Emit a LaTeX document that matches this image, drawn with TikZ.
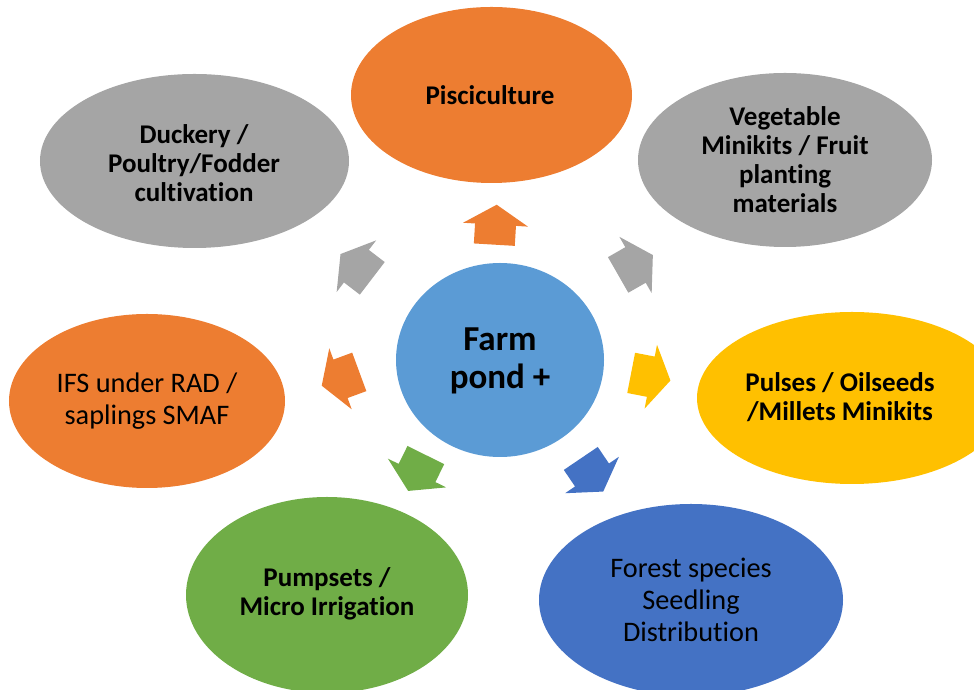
\documentclass[tikz,border=0pt]{standalone}
\usepackage{fontspec}
\setmainfont[Ligatures=NoCommon]{Carlito}
\usetikzlibrary{shapes.geometric}
\definecolor{cOrange}{HTML}{ED7D31}
\definecolor{cGray}{HTML}{A5A5A5}
\definecolor{cYellow}{HTML}{FFC000}
\definecolor{cBlue}{HTML}{4472C4}
\definecolor{cGreen}{HTML}{70AD47}
\definecolor{cCenter}{HTML}{5B9BD5}
\newcommand\bkarrow[4]{\fill[#4, shift={(#1,#2)}, rotate=#3] (-20,-20.5) -- (0,-20.5) -- (0,-32.5) -- (20,0) -- (0,32.5) -- (0,20.5) -- (-20,20.5) -- cycle;}
\begin{document}
\begin{tikzpicture}[x=1bp,y=1bp,
  blob/.style={ellipse, inner sep=0pt, draw=none},
  bt/.style={font=\fontsize{27bp}{29bp}\selectfont\bfseries, align=center, text=black, inner sep=0pt},
  rt/.style={font=\fontsize{28.3bp}{32bp}\selectfont, align=center, text=black, inner sep=0pt}]
\useasboundingbox (0,0) rectangle (974,690);
\clip (0,0) rectangle (974,690);
% outer ellipses
\node[blob, fill=cOrange, minimum width=281bp, minimum height=176bp] (pis) at (491.5,595) {};
\node[blob, fill=cGray, minimum width=309bp, minimum height=174bp] (duck) at (194.5,529) {};
\node[blob, fill=cGray, minimum width=294bp, minimum height=174bp] (veg) at (785,530) {};
\node[blob, fill=cYellow, minimum width=310bp, minimum height=172bp] (pul) at (852,292) {};
\node[blob, fill=cOrange, minimum width=276bp, minimum height=174bp] (ifs) at (147,289) {};
\node[blob, fill=cBlue, minimum width=304bp, minimum height=192bp] (forest) at (691,90) {};
\node[blob, fill=cGreen, minimum width=282bp, minimum height=196bp] (pump) at (327,95) {};
\node[blob, fill=cCenter, minimum width=208bp, minimum height=194bp] (farm) at (500,330) {};
% labels
\node[bt] (tpis) at (490,595) {Pisciculture};
\node[bt] (tduck) at (194,527) {Duckery /\\Poultry/Fodder\\cultivation};
\node[bt] (tveg) at (785,530) {Vegetable\\Minikits / Fruit\\planting\\materials};
\node[bt] (tpul) at (840,293) {Pulses / Oilseeds\\/Millets Minikits};
\node[rt] (tifs) at (147,289) {IFS under RAD /\\saplings SMAF};
\node[rt] (tforest) at (691,90) {Forest species\\Seedling\\Distribution};
\node[bt] (tpump) at (327,96) {Pumpsets /\\Micro Irrigation};
\node[font=\fontsize{35bp}{38bp}\selectfont\bfseries, align=center, inner sep=0pt] (tfarm) at (500,329) {Farm\\pond +};
% block arrows
\bkarrow{495.5}{465.3}{86.6}{cOrange}
\bkarrow{635.5}{425}{29.8}{cGray}
\bkarrow{650.8}{313.3}{-11}{cYellow}
\bkarrow{592}{215}{-55.9}{cBlue}
\bkarrow{417}{217}{243.7}{cGreen}
\bkarrow{340.5}{311.2}{200.2}{cOrange}
\bkarrow{356.4}{423.8}{142.6}{cGray}
\end{tikzpicture}
\end{document}
